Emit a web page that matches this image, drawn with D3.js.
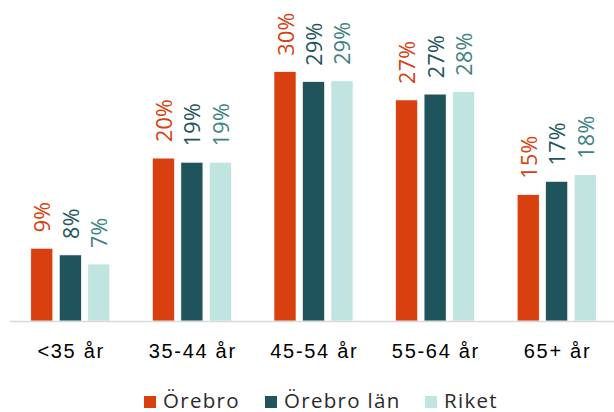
<!DOCTYPE html>
<meta charset="utf-8">
<style>
  body { margin: 0; background: #fff; }
  .cat { font-family: "Liberation Sans", Arial, sans-serif; font-size: 20px; fill: #000; letter-spacing: 1.7px; }
  .lbl { font-family: "Open Sans", sans-serif; font-size: 21.5px; letter-spacing: 0.3px; }
  .leg { font-family: "Open Sans", sans-serif; font-size: 20.5px; fill: #2b2b2b; letter-spacing: 1.3px; }
</style>
<body>
<script src="https://d3js.org/d3.v7.min.js"></script>
<script>

// categories and series
var categories = ["<35 år", "35-44 år", "45-54 år", "55-64 år", "65+ år"];
var series = ["Örebro", "Örebro län", "Riket"];

// percent values
var orebro    = [8.75, 19.6, 30.0, 26.6, 15.2];
var orebroLan = [7.95, 19.1, 28.8, 27.3, 16.8];
var riket     = [6.85, 19.1, 28.9, 27.6, 17.6];

var barColors   = ["#d9400f", "#1f545d", "#c0e4e0"];
var labelColors = ["#d9400f", "#1f545d", "#3e8282"];

var width = 614, height = 412;
var baseY = 321;

var svg = d3.select("body").append("svg")
    .attr("width", width)
    .attr("height", height);

// scales
var x0 = d3.scaleBand().domain(categories).range([9.5, 617.5]);
var x1 = d3.scaleBand().domain(series).range([0, 79]).paddingInner(0.228);
var groupOffset = (x0.bandwidth() - 79) / 2;
var y = d3.scaleLinear().domain([0, 30]).range([baseY, 71.7]);

var values = [orebro, orebroLan, riket];

// table for drawing
var rows = [];
categories.forEach(function(c, i) {
  series.forEach(function(s, j) {
    rows.push({cat: c, ser: s, si: j, v: values[j][i]});
  });
});

// bars
svg.append("g").selectAll("rect")
  .data(rows)
  .enter().append("rect")
    .attr("x", function(d) { return x0(d.cat) + groupOffset + x1(d.ser); })
    .attr("y", function(d) { return y(d.v); })
    .attr("width", x1.bandwidth())
    .attr("height", function(d) { return baseY - y(d.v); })
    .attr("fill", function(d) { return barColors[d.si]; })
    .attr("stroke", "#fff")
    .attr("stroke-width", 0.6);

// value labels, rotated
svg.append("g").selectAll("text")
  .data(rows)
  .enter().append("text")
    .attr("class", "lbl")
    .attr("transform", function(d) {
      var cx = x0(d.cat) + groupOffset + x1(d.ser) + x1.bandwidth() / 2;
      return "translate(" + cx + "," + (y(d.v) - 16) + ") rotate(-90)";
    })
    .attr("text-anchor", "start")
    .attr("dominant-baseline", "central")
    .attr("fill", function(d) { return labelColors[d.si]; })
    .text(function(d) { return Math.round(d.v) + "%"; });

// x axis
var xAxis = svg.append("g")
    .attr("transform", "translate(0," + baseY + ")")
    .call(d3.axisBottom(x0).tickSize(0).tickPadding(0));
xAxis.attr("font-size", null).attr("font-family", null);
xAxis.select(".domain").attr("stroke", "#d9d9d9").attr("stroke-width", 1.5);
xAxis.selectAll("text")
    .attr("class", "cat")
    .attr("y", 37)
    .attr("dy", 0)
    .attr("dx", "0.8px");

// legend
var legX = [144, 265, 425];
var legend = svg.append("g").selectAll("g")
  .data(series)
  .enter().append("g")
    .attr("transform", function(d, i) { return "translate(" + legX[i] + ",396)"; });
legend.append("rect")
    .attr("width", 12).attr("height", 12)
    .attr("fill", function(d, i) { return barColors[i]; });
legend.append("text")
    .attr("class", "leg")
    .attr("x", 19)
    .attr("y", 11.5)
    .text(function(d) { return d; });

</script>
</body>
